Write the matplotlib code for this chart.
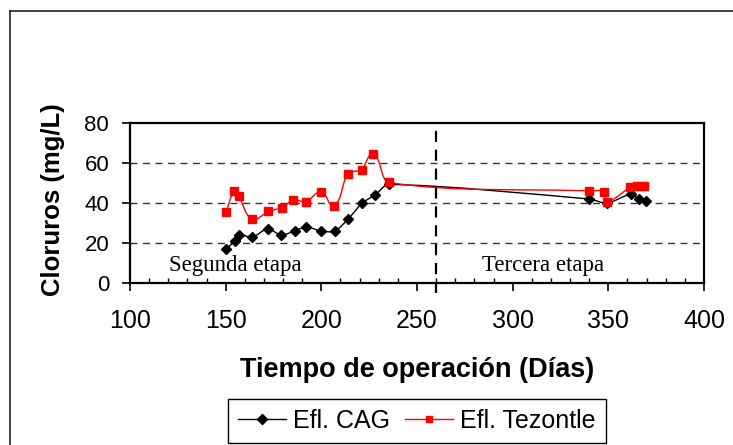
import matplotlib
matplotlib.use("Agg")
import matplotlib.pyplot as plt
from matplotlib.path import Path
from matplotlib.patches import PathPatch
from matplotlib.lines import Line2D
from matplotlib.ticker import MultipleLocator
import numpy as np

# ---- data ----
cag_days = [150, 155, 157, 164, 172, 179, 186, 192, 200, 207, 214, 221.5, 228, 235.5,
            340, 349.3, 361.7, 366, 369.5]
cag_vals = [17, 21, 24, 23, 27, 24, 26, 28, 26, 26, 32, 40, 44, 49.3,
            42, 40, 44.3, 42, 41]
tez_days = [150.3, 154.4, 156.8, 163.8, 172.3, 179.4, 185.4, 192, 200, 206.6, 213.9, 221, 227.2, 235.5,
            340, 347.5, 349.3, 361.4, 365.2, 368.7]
tez_vals = [35.7, 45.8, 43.5, 31.8, 35.8, 37.7, 41.5, 40.7, 45.7, 38.5, 54.7, 56.7, 64.5, 50.3,
            46, 45.7, 40.7, 47.8, 48.7, 48.7]
x_ticks = [100, 150, 200, 250, 300, 350, 400]
y_ticks = [0, 20, 40, 60, 80]
stage_divider = 260
stage_labels = ["Segunda etapa", "Tercera etapa"]
series_names = ["Efl. CAG", "Efl. Tezontle"]

W, H = 733, 445
fig = plt.figure(figsize=(W / 100, H / 100), dpi=100)
ax = fig.add_axes([130 / W, 1 - 283 / H, (704 - 130) / W, (283 - 123) / H])


def smooth_path(xs, ys, k=0.3):
    # smoothed line (Bezier) with tangents scaled by segment length
    pts = np.column_stack([xs, ys]).astype(float)
    scale = np.array([1.913, 2.0])
    n = len(pts)
    tang = []
    for i in range(n):
        a = pts[max(i - 1, 0)]
        b = pts[min(i + 1, n - 1)]
        d = (b - a) * scale
        nrm = np.hypot(*d)
        tang.append(d / nrm if nrm > 0 else d)
    verts = [pts[0]]
    codes = [Path.MOVETO]
    for i in range(n - 1):
        p1, p2 = pts[i], pts[i + 1]
        seg = np.hypot(*((p2 - p1) * scale))
        c1 = p1 + tang[i] * seg * k / scale
        c2 = p2 - tang[i + 1] * seg * k / scale
        verts += [c1, c2, p2]
        codes += [Path.CURVE4] * 3
    return Path(verts, codes)


ax.add_patch(PathPatch(smooth_path(cag_days, cag_vals), fill=False, edgecolor="black",
                       lw=1.0, zorder=3))
ax.add_patch(PathPatch(smooth_path(tez_days, tez_vals), fill=False, edgecolor="#ff0000",
                       lw=1.0, zorder=3))
ax.plot(cag_days, cag_vals, linestyle="none", marker="D", color="black", markersize=5.5, zorder=4)
ax.plot(tez_days, tez_vals, linestyle="none", marker="s", color="#ff0000", markersize=5.5, zorder=4)

ax.set_xlim(100, 400)
ax.set_ylim(0, 80)
ax.set_xticks(x_ticks)
ax.set_yticks(y_ticks)
ax.xaxis.set_minor_locator(MultipleLocator(10))
ax.tick_params(axis="x", which="major", direction="out", length=5.5, width=1.2,
               labelsize=18, pad=13, colors="black")
ax.tick_params(axis="x", which="minor", direction="in", length=3.5, width=1.0)
ax.tick_params(axis="y", which="major", direction="out", length=6, width=1.2,
               labelsize=16, pad=9)
for lab in ax.get_xticklabels() + ax.get_yticklabels():
    lab.set_family("Liberation Sans")
for s in ax.spines.values():
    s.set_linewidth(1.6)
    s.set_color("black")

for yv in y_ticks[1:-1]:
    ax.axhline(yv, color="#333333", lw=1.0, dashes=(5, 4), zorder=1)

ax.axvline(stage_divider, ymin=-0.06, ymax=1, color="black", lw=1.6, dashes=(5, 3.5),
           clip_on=False, zorder=2)

ax.text(120.4, 6, stage_labels[0], family="Liberation Serif", fontsize=16.5,
        ha="left", va="baseline")
ax.text(284, 6, stage_labels[1], family="Liberation Serif", fontsize=16.5,
        ha="left", va="baseline")

fig.text(417 / W, 1 - 377 / H, "Tiempo de operación (Días)", family="Liberation Sans",
         fontweight="bold", fontsize=19.5, ha="center", va="baseline")
fig.text(53 / W, 1 - 200 / H, "Cloruros (mg/L)", family="Liberation Sans",
         fontweight="bold", fontsize=18.5, ha="center", va="center", rotation=90)

handles = [Line2D([], [], color="black", lw=1.0, marker="D", markersize=5),
           Line2D([], [], color="#ff0000", lw=1.0, marker="s", markersize=5)]
leg = fig.legend(handles, series_names, loc="center",
                 bbox_to_anchor=(417 / W, 1 - 420.5 / H), ncol=2, frameon=True,
                 fancybox=False, edgecolor="black", framealpha=1,
                 prop={"family": "Liberation Sans", "size": 18},
                 handlelength=1.9, handletextpad=0.3, columnspacing=0.6,
                 borderpad=0.4, borderaxespad=0)
leg.get_frame().set_linewidth(1.0)

# outer chart frame
fig.add_artist(Line2D([10 / W, 10 / W], [0, 1 - 11 / H], transform=fig.transFigure,
                      color="#222222", lw=1.2))
fig.add_artist(Line2D([10 / W, 1], [1 - 11 / H, 1 - 11 / H], transform=fig.transFigure,
                      color="#222222", lw=1.2))

fig.savefig("out.png", dpi=100)
